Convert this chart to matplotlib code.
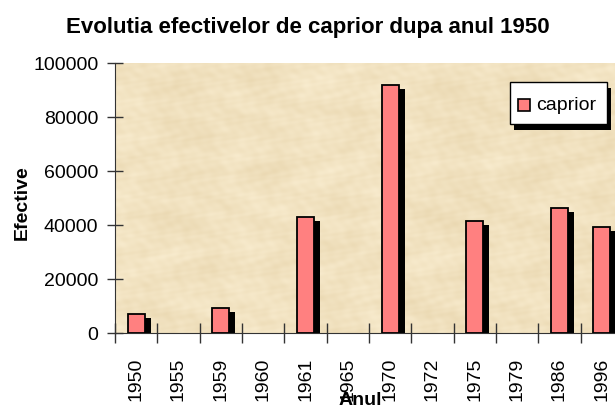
import matplotlib.pyplot as plt
import numpy as np
from matplotlib.patches import Rectangle

years = ['1950', '1955', '1959', '1960', '1961', '1965',
         '1970', '1972', '1975', '1979', '1986', '1996']
caprior = [7000, 0, 9300, 0, 42900, 0, 92000, 0, 41600, 0, 46300, 39100]

font = 'Liberation Sans'
bar_color = '#ff8080'
bar_w = 0.4
shadow_dx = 0.14
shadow_dy = 1500
W, H = 615, 410

fig = plt.figure(figsize=(6.15, 4.1), dpi=100)
ax = fig.add_axes([115 / W, 76 / H, 508 / W, 270 / H])

# parchment background for the plot area (deterministic mottling)
gx, gy = np.meshgrid(np.linspace(0, 1, 500), np.linspace(0, 1, 270))
tex = (np.sin(gx * 23 + np.sin(gy * 17) * 2.1) * np.cos(gy * 19 + np.sin(gx * 13) * 1.7)
       + 0.7 * np.sin(gx * 61 + np.cos(gy * 41) * 2.5) * np.sin(gy * 57 + np.cos(gx * 37) * 2.2)
       + 0.5 * np.sin(gx * 173 + gy * 97 + np.sin(gy * 89)) * np.cos(gy * 151 - gx * 83))
tex = (tex - tex.min()) / (tex.max() - tex.min())
c1 = np.array([0.975, 0.925, 0.81])
c2 = np.array([0.92, 0.85, 0.70])
img = c1 + (c2 - c1) * tex[..., None]
ax.imshow(img, extent=[0, 1, 0, 1], transform=ax.transAxes, aspect='auto', zorder=0)

x = np.arange(len(years))
vals = np.array(caprior)
# shadows
shadows = ax.bar(x + shadow_dx, np.clip(vals - shadow_dy, 0, None), width=bar_w,
                 color='black', linewidth=0, zorder=2)
bars = ax.bar(x, vals, width=bar_w, color=bar_color, edgecolor='black', linewidth=1.3,
              zorder=3, label='caprior')
for b, v in zip(bars, vals):
    if v == 0:
        b.set_visible(False)

ax.set_xlim(-0.5, len(years) - 0.5)
ax.set_ylim(0, 100000)
ax.set_yticks(range(0, 100001, 20000))
ax.set_yticklabels([str(v) for v in range(0, 100001, 20000)], family=font, fontsize=14)
ax.set_xticks(x)
ax.set_xticklabels(years, rotation=90, family=font, fontsize=14, va='top')
ax.set_xticks(np.arange(-0.5, len(years), 1), minor=True)
ax.tick_params(axis='x', which='major', length=0, pad=17)
ax.tick_params(axis='x', which='minor', length=14, direction='inout', width=1, color='#333333')
ax.tick_params(axis='y', length=12, direction='inout', width=1, pad=6, color='#333333')

for s in ['top', 'right']:
    ax.spines[s].set_visible(False)
ax.spines['left'].set_color('#333333')
ax.spines['bottom'].set_color('#333333')

fig.text(0.5, 0.932, 'Evolutia efectivelor de caprior dupa anul 1950', ha='center', va='center',
         family=font, fontsize=16, weight='bold')
fig.text(0.036, 0.507, 'Efective', rotation=90, ha='center', va='center',
         family=font, fontsize=14, weight='bold')
fig.text(0.585, 0.022, 'Anul', ha='center', va='center',
         family=font, fontsize=14, weight='bold')

# legend box drawn by hand (Excel style, with drop shadow)
def px(x0, y0):
    return x0 / W, 1 - y0 / H

lx0, ly0, lx1, ly1 = 510, 83, 607, 125
fig.add_artist(Rectangle(px(lx0 + 4, ly1 + 6), (lx1 - lx0) / W, (ly1 - ly0) / H,
                         transform=fig.transFigure, facecolor='black', linewidth=0, zorder=5))
fig.add_artist(Rectangle(px(lx0, ly1), (lx1 - lx0) / W, (ly1 - ly0) / H,
                         transform=fig.transFigure, facecolor='white', edgecolor='black',
                         linewidth=1, zorder=6))
fig.add_artist(Rectangle(px(518, 112), 12 / W, 12 / H, transform=fig.transFigure,
                         facecolor=bar_color, edgecolor='black', linewidth=1.2, zorder=7))
fig.text(536 / W, 1 - 105 / H, 'caprior', ha='left', va='center', family=font,
         fontsize=14, zorder=7)

fig.savefig('out.png', dpi=100)
